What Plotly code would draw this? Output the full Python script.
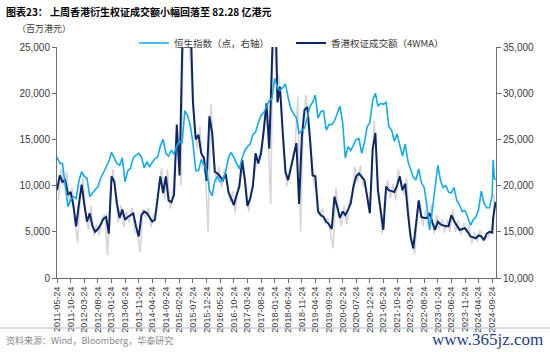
import plotly.graph_objects as go
import pandas as pd

# ---------------- data ----------------
tick_labels = ["2011-05-24", "2011-10-24", "2012-03-24", "2012-08-24", "2013-01-24", "2013-06-24",
               "2013-11-24", "2014-04-24", "2014-09-24", "2015-02-24", "2015-07-24", "2015-12-24",
               "2016-05-24", "2016-10-24", "2017-03-24", "2017-08-24", "2018-01-24", "2018-06-24",
               "2018-11-24", "2019-04-24", "2019-09-24", "2020-02-24", "2020-07-24", "2020-12-24",
               "2021-05-24", "2021-10-24", "2022-03-24", "2022-08-24", "2023-01-24", "2023-06-24",
               "2023-11-24", "2024-04-24", "2024-09-24"]

month_starts = pd.date_range("2011-05-01", "2024-09-01", freq="MS")
dates = [(d + pd.Timedelta(days=23)).strftime("%Y-%m-%d") for d in month_starts] + \
        ["2024-10-04", "2024-10-18", "2024-11-01"]
gray_dates = [(d + pd.Timedelta(days=39)).strftime("%Y-%m-%d") for d in month_starts] + \
             ["2024-10-11", "2024-10-25"]

# Hang Seng Index (points, right axis)
hsi = [23100, 22400, 22400, 20000, 17700, 18500, 18800, 18600, 20500, 21500,
       21000, 20800, 18800, 19200, 19600, 19900, 20800, 21400, 22000, 22600,
       23600, 23000, 22400, 22200, 23000, 20400, 21600, 21900, 23000, 23300,
       23500, 23100, 21900, 22600, 22000, 22500, 22900, 23100, 24300, 25000,
       23500, 23200, 23800, 23400, 24300, 24800, 24600, 28100, 27600, 26500,
       24600, 21600, 21600, 22800, 22200, 21700, 19500, 18900, 20500, 21000,
       20400, 20600, 21500, 23000, 23600, 23000, 22500, 21800, 23000, 23800,
       24200, 24500, 25500, 25800, 26800, 27600, 27900, 28500, 29200, 29400,
       31600, 30600, 30300, 30600, 31000, 29500, 28300, 27800, 27300, 25600,
       26000, 26200, 27400, 28600, 29000, 29800, 27300, 28000, 28100, 26000,
       26600, 26600, 27000, 27800, 28600, 26800, 23000, 24200, 23800, 24400,
       25000, 25100, 23500, 24700, 26400, 26800, 29200, 30000, 28600, 28900,
       28800, 29000, 26400, 26000, 24800, 25600, 24400, 23200, 24500, 22600,
       21800, 20900, 20600, 21800, 20300, 19800, 17800, 15200, 17400, 19600,
       22200, 20500, 19800, 20000, 19300, 19200, 19800, 18400, 17900, 17200,
       17300, 16600, 15700, 16300, 16600, 17400, 19400, 18100, 17600, 17600,
       19000, 22800, 20800, 20600]

# HK warrant turnover, 4-week moving average (HKD mn)
warrant_4wma = [9500, 11100, 10400, 10600, 9000, 9300, 7800, 5600, 8000, 10100,
                8000, 6100, 7000, 5600, 5000, 5300, 5800, 6400, 6600, 4800,
                11000, 10400, 8100, 6500, 7400, 6300, 6600, 6800, 7000, 5600,
                4500, 6800, 7200, 7000, 6600, 6100, 6300, 8800, 11000, 9200,
                11000, 8400, 8200, 9000, 16600, 11100, 24000, 34000, 30000, 29000,
                19000, 15000, 15500, 13500, 13000, 10500, 17500, 15700, 11500, 11300,
                11000, 10600, 11300, 9300, 8600, 7900, 9000, 9900, 12800, 10600,
                7800, 8600, 9900, 13500, 12400, 13500, 16000, 18900, 14000, 20000,
                33000, 19000, 20700, 15700, 11500, 10600, 12000, 13300, 14600, 8000,
                15300, 18200, 18500, 14900, 11100, 11000, 7200, 6800, 6600, 6100,
                5800, 5300, 8800, 7700, 6500, 7200, 6800, 7400, 8100, 9900,
                11000, 11300, 11000, 10600, 8800, 7000, 13900, 15700, 9500, 7000,
                5200, 9900, 9500, 9400, 9300, 10000, 11000, 9500, 10200, 7000,
                4500, 3200, 5500, 8400, 6600, 6500, 6500, 7000, 6000, 5200,
                6100, 5800, 5700, 5600, 5600, 6800, 6200, 5700, 5200, 5300,
                5400, 5000, 4500, 4400, 4300, 4600, 4500, 4100, 4800, 5000,
                4900, 6500, 7400, 8228]

# HK warrant turnover, weekly (HKD mn)
warrant_weekly = [8400, 11800, 10000, 11500, 8200, 9800, 6200, 3800, 9000, 10800,
                  6800, 5200, 7800, 4600, 5800, 4600, 6400, 6900, 2500, 9000,
                  11800, 9000, 6000, 7900, 5500, 7200, 6000, 7600, 5000, 4800,
                  2800, 7400, 6500, 7600, 5500, 6800, 7200, 10200, 11900, 8500,
                  11800, 7500, 9400, 12800, 15000, 10000, 28000, 34000, 26000, 21000,
                  16400, 14000, 16400, 12000, 11200, 5000, 18800, 13500, 10400, 12000,
                  9800, 11800, 10500, 8200, 9400, 7000, 9800, 11000, 12000, 9400,
                  7200, 9500, 11000, 12800, 13400, 14800, 18000, 15800, 8000, 29000,
                  22500, 21800, 18000, 13800, 10000, 11600, 13000, 14200, 19600, 5000,
                  17000, 19800, 17000, 13000, 10200, 9000, 6800, 7500, 5900, 6500,
                  5000, 3200, 9800, 7000, 5600, 7800, 5800, 8200, 9200, 12000,
                  10400, 12200, 10000, 9800, 7600, 9600, 17000, 12000, 8200, 4800,
                  8800, 10600, 8600, 10200, 8400, 11800, 10000, 9000, 10800, 5600,
                  4000, 2600, 6800, 7600, 5600, 7400, 5600, 8000, 4800, 6800,
                  5200, 6400, 4900, 6300, 5000, 7400, 5000, 6200, 4700, 6000,
                  4900, 5600, 3700, 5000, 3900, 5200, 4000, 4600, 4300, 5400,
                  6000, 9000, 7600]

left_ticks = [0, 5000, 10000, 15000, 20000, 25000]
right_ticks = [10000, 15000, 20000, 25000, 30000, 35000]

# ---------------- figure ----------------
L, R, T, B = 57, 54, 47, 74
W, H = 550, 352
PW, PH = W - L - R, H - T - B


def px(x):
    return (x - L) / PW


def py(y):
    return (H - B - y) / PH


fig = go.Figure()
fig.add_trace(go.Scatter(x=gray_dates, y=warrant_weekly, mode="lines", yaxis="y",
                         line=dict(color="#d6d6d6", width=1.6), showlegend=False, hoverinfo="skip"))
fig.add_trace(go.Scatter(x=dates, y=hsi, mode="lines", yaxis="y2", name="恒生指数（点，右轴）",
                         line=dict(color="#14aaee", width=1.6)))
fig.add_trace(go.Scatter(x=dates, y=warrant_4wma, mode="lines", yaxis="y", name="香港权证成交额（4WMA）",
                         line=dict(color="#0c2768", width=2)))

axis_col = "#6e6e6e"
fig.update_layout(
    width=W, height=H,
    margin=dict(l=L, r=R, t=T, b=B),
    paper_bgcolor="white", plot_bgcolor="white",
    font=dict(family="Liberation Sans, Noto Sans CJK SC", size=10, color="#3a3a3a"),
    xaxis=dict(type="date", range=["2011-05-24", "2024-11-05"],
               tickvals=tick_labels, ticktext=tick_labels, tickangle=-90,
               tickfont=dict(size=9, family="Liberation Sans"),
               showline=True, linecolor=axis_col, linewidth=1,
               ticks="outside", ticklen=4, tickcolor=axis_col, showgrid=False, zeroline=False),
    yaxis=dict(range=[0, 25000], tickvals=left_ticks, tickformat=",",
               showline=True, linecolor=axis_col, linewidth=1,
               ticks="outside", ticklen=4, tickcolor=axis_col, showgrid=False, zeroline=False,
               tickfont=dict(size=10)),
    yaxis2=dict(range=[10000, 35000], tickvals=right_ticks, tickformat=",",
                overlaying="y", side="right",
                showline=True, linecolor=axis_col, linewidth=1,
                ticks="outside", ticklen=4, tickcolor=axis_col, showgrid=False, zeroline=False,
                tickfont=dict(size=10)),
    legend=dict(orientation="h", x=px(134), y=py(43), xanchor="left", yanchor="middle",
                font=dict(size=9.5, family="Noto Sans CJK SC", color="#3a3a3a"),
                bgcolor="rgba(0,0,0,0)", tracegroupgap=0, itemwidth=30,
                entrywidth=112, entrywidthmode="pixels"),
    annotations=[
        dict(text="<b>图表23： 上周香港衍生权证成交额小幅回落至 82.28 亿港元</b>",
             xref="paper", yref="paper", x=px(4), y=py(12), xanchor="left", yanchor="middle",
             showarrow=False, font=dict(size=10, color="#000000", family="Noto Sans CJK SC")),
        dict(text="（百万港元）", xref="paper", yref="paper", x=px(15), y=py(28),
             xanchor="left", yanchor="middle", showarrow=False,
             font=dict(size=9, color="#3a3a3a", family="Noto Sans CJK SC")),
        dict(text="资料来源：Wind，Bloomberg，华泰研究", xref="paper", yref="paper", x=px(4), y=py(340),
             xanchor="left", yanchor="middle", showarrow=False,
             font=dict(size=9, color="#8a8a8a", family="Noto Sans CJK SC")),
        dict(text="www.365jz.com", xref="paper", yref="paper", x=px(545), y=py(339),
             xanchor="right", yanchor="middle", showarrow=False,
             font=dict(size=17, color="#1d3b8c", family="Liberation Serif")),
    ],
    shapes=[
        dict(type="line", xref="paper", yref="paper", x0=px(0), x1=px(550), y0=py(328), y1=py(328),
             line=dict(color="#a9bdd2", width=1)),
    ],
)

fig.write_html("out.html")
